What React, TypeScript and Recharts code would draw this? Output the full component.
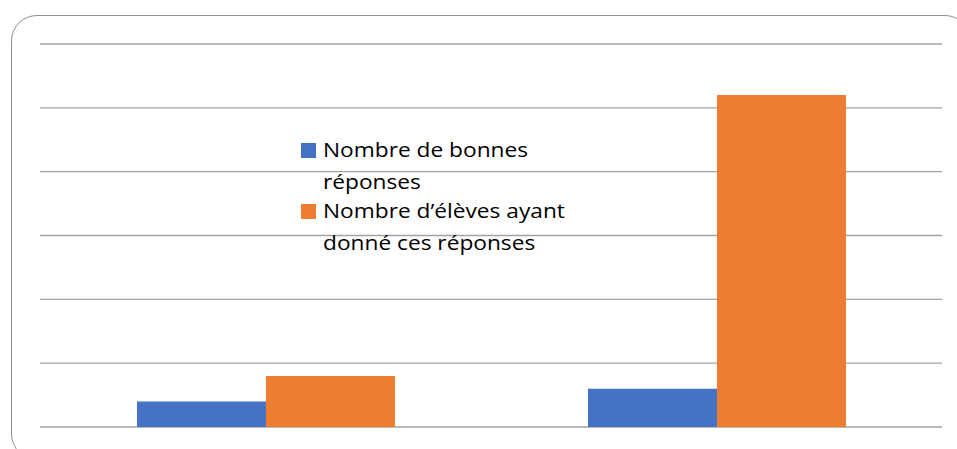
import React from 'react';
import { BarChart, Bar, XAxis, YAxis, CartesianGrid, Legend } from 'recharts';

const categories = ['Groupe 1', 'Groupe 2'];
const bonnesReponses = [2, 3];
const nombreEleves = [4, 26];
const yTicks = [0, 5, 10, 15, 20, 25, 30];

const seriesNames = ['Nombre de bonnes réponses', "Nombre d’élèves ayant donné ces réponses"];
const legendLines = [
  ['Nombre de bonnes', 'réponses'],
  ['Nombre d’élèves ayant', 'donné ces réponses'],
];
const colors = ['#4472C4', '#ED7D31'];

const data = categories.map((c, i) => ({
  name: c,
  bonnes: bonnesReponses[i],
  eleves: nombreEleves[i],
}));

const renderLegend = (props: any) => {
  const payload = props.payload || [];
  return (
    <div style={{ fontFamily: '"Open Sans", sans-serif', fontSize: 20, color: '#000' }}>
      {payload.map((entry: any, i: number) => (
        <div key={i} style={{ display: 'flex', alignItems: 'flex-start', marginTop: i === 0 ? 0 : -3 }}>
          <div style={{ width: 15, height: 15, background: entry.color, marginTop: 9, marginRight: 7, flexShrink: 0 }} />
          <div style={{ lineHeight: '32px', transform: 'scaleX(1.135)', transformOrigin: 'left center', whiteSpace: 'nowrap' }}>
            {legendLines[i].map((l, j) => (
              <div key={j}>{l}</div>
            ))}
          </div>
        </div>
      ))}
    </div>
  );
};

export default function App() {
  return (
    <div style={{ position: 'absolute', left: 0, top: 0, width: 957, height: 449, overflow: 'hidden', background: '#fff' }}>
      <div
        style={{
          position: 'absolute',
          left: 11,
          top: 15,
          width: 960,
          height: 445,
          border: '1.5px solid #8f8f8f',
          borderRadius: 26,
          boxSizing: 'border-box',
        }}
      />
      <div style={{ position: 'absolute', left: 0, top: 0 }}>
        <BarChart
          width={957}
          height={449}
          data={data}
          margin={{ top: 44, right: 15, bottom: 22, left: 40 }}
          barCategoryGap="21.5%"
          barGap={0}
        >
          <CartesianGrid vertical={false} stroke="#a3a3a3" strokeWidth={1.3} />
          <XAxis dataKey="name" height={0} tick={false} tickLine={false} axisLine={{ stroke: '#b5b5b5', strokeWidth: 1.6 }} />
          <YAxis
            width={0}
            domain={[0, 30]}
            ticks={yTicks}
            interval={0}
            tick={{ fill: 'transparent', fontSize: 1 }}
            tickLine={false}
            axisLine={false}
          />
          <Legend
            layout="vertical"
            align="center"
            verticalAlign="middle"
            content={renderLegend}
            wrapperStyle={{ position: 'absolute', left: 301, top: 134, width: 320 }}
          />
          <Bar dataKey="bonnes" name={seriesNames[0]} fill={colors[0]} isAnimationActive={false} />
          <Bar dataKey="eleves" name={seriesNames[1]} fill={colors[1]} isAnimationActive={false} />
        </BarChart>
      </div>
    </div>
  );
}
